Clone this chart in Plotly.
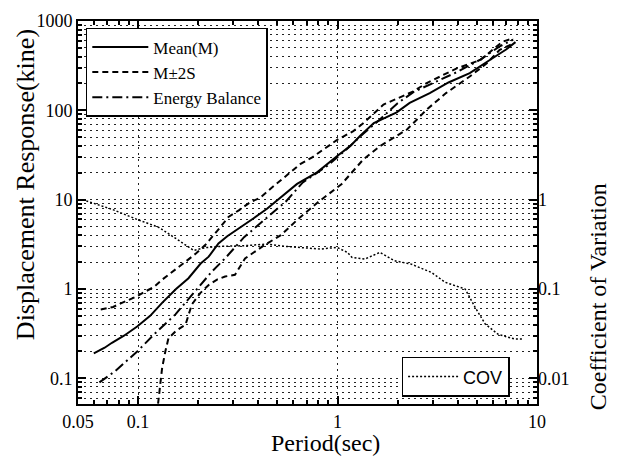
import math
import plotly.graph_objects as go

# Mean(M)
mean_T = [0.060, 0.068, 0.074, 0.085, 0.099, 0.115, 0.132, 0.155, 0.179, 0.206, 0.226, 0.253,
          0.28, 0.319, 0.38, 0.443, 0.52, 0.627, 0.79, 0.92, 1.0, 1.16, 1.3, 1.52, 1.75, 1.98,
          2.3, 2.9, 3.6, 4.6, 5.8, 7.0, 7.8]
mean_D = [0.19, 0.22, 0.25, 0.30, 0.38, 0.50, 0.70, 1.0, 1.32, 1.93, 2.3, 3.23,
          3.9, 4.8, 6.2, 7.9, 10.5, 15.0, 20.2, 27, 31, 40, 52, 72, 83, 95,
          121, 156, 205, 261, 366, 480, 580]

# M+2S
upper_T = [0.065, 0.075, 0.083, 0.099, 0.109, 0.12, 0.132, 0.15, 0.173, 0.195, 0.217, 0.25,
           0.284, 0.32, 0.366, 0.41, 0.46, 0.58, 0.65, 0.75, 0.85, 1.0, 1.2, 1.35, 1.7, 2.0,
           2.4, 2.8, 3.4, 3.96, 5.2, 6.7, 7.6]
upper_D = [0.59, 0.63, 0.70, 0.83, 0.94, 1.05, 1.27, 1.6, 2.02, 2.5, 3.1, 4.5,
           6.4, 7.6, 9.4, 10.5, 13.2, 20.2, 25, 30, 36.6, 47, 58.5, 72, 116, 135,
           163, 202, 250, 295, 366, 585, 640]

# M-2S
lower_T = [0.126, 0.129, 0.132, 0.137, 0.142, 0.155, 0.173, 0.186, 0.205, 0.226, 0.25, 0.273,
           0.306, 0.344, 0.43, 0.52, 0.636, 0.8, 1.05, 1.35, 1.64, 2.23, 2.8, 3.5, 4.6, 5.6,
           6.5, 7.6]
lower_D = [0.052, 0.08, 0.13, 0.2, 0.28, 0.34, 0.40, 0.67, 0.9, 1.11, 1.28, 1.38,
           1.44, 2.2, 3.1, 4.0, 6.1, 9.4, 15.0, 28.4, 40, 61, 102, 156, 239, 336,
           475, 560]

# Energy Balance
eb_T = [0.064, 0.077, 0.099, 0.122, 0.154, 0.186, 0.234, 0.273, 0.34, 0.45, 0.55, 0.67,
        0.89, 1.1, 1.35, 1.64, 2.0, 2.4, 3.0, 4.0, 5.2, 6.5, 7.6]
eb_D = [0.09, 0.121, 0.20, 0.32, 0.52, 0.86, 1.56, 2.2, 3.8, 6.5, 9.5, 15.6,
        24, 36, 55, 80, 120, 160, 200, 270, 370, 520, 620]

# COV (right axis)
cov_T = [0.055, 0.074, 0.099, 0.127, 0.16, 0.19, 0.217, 0.26, 0.339, 0.443, 0.55, 0.649,
         0.818, 0.995, 1.12, 1.18, 1.37, 1.63, 1.93, 2.34, 2.96, 3.46, 4.36, 4.9, 5.5,
         6.4, 7.7, 8.6]
cov_V = [0.97, 0.78, 0.60, 0.49, 0.35, 0.27, 0.29, 0.30, 0.305, 0.318, 0.30, 0.292,
         0.28, 0.292, 0.257, 0.226, 0.216, 0.257, 0.207, 0.19, 0.153, 0.119, 0.10, 0.062,
         0.0406, 0.031, 0.0276, 0.0276]

x_ticks = [0.05, 0.1, 1, 10]
x_ticktext = ['0.05', '0.1', '1', '10']
y_ticks = [0.1, 1, 10, 100, 1000]
y_ticktext = ['0.1', '1', '10', '100', '1000']
cov_ticks = [0.01, 0.1, 1]
cov_ticktext = ['0.01', '0.1', '1']

SERIF = 'Liberation Serif, Times New Roman, serif'
SANS = 'Liberation Sans, Arial, sans-serif'
GRID_DASH = '2px,4px'

x_minor = [m * 10 ** k for k in (-2, -1, 0) for m in range(2, 10) if 0.05 < m * 10 ** k < 10]
y_minor = [m * 10 ** k for k in (-2, -1, 0, 1, 2) for m in range(2, 10) if 0.0516 < m * 10 ** k < 1000]

fig = go.Figure()

fig.add_trace(go.Scatter(x=mean_T, y=mean_D, mode='lines', name='Mean(M)',
                         line=dict(color='black', width=2)))
fig.add_trace(go.Scatter(x=upper_T, y=upper_D, mode='lines', name='M\u00b12S',
                         line=dict(color='black', width=2, dash='6px,4px')))
fig.add_trace(go.Scatter(x=lower_T, y=lower_D, mode='lines', name='M-2S', showlegend=False,
                         line=dict(color='black', width=2, dash='6px,4px')))
fig.add_trace(go.Scatter(x=eb_T, y=eb_D, mode='lines', name='Energy Balance',
                         line=dict(color='black', width=2, dash='10px,4px,2px,4px')))
fig.add_trace(go.Scatter(x=cov_T, y=cov_V, mode='lines', name='COV', yaxis='y2', legend='legend2',
                         line=dict(color='black', width=1.5, dash='2px,2px')))

y_lo = math.log10(0.0516)

fig.update_layout(
    width=617, height=460,
    margin=dict(l=78, r=80, t=21, b=56),
    paper_bgcolor='white', plot_bgcolor='white',
    font=dict(family=SERIF, size=18, color='black'),
    xaxis=dict(
        type='log', range=[math.log10(0.05), 1],
        tickmode='array', tickvals=x_ticks, ticktext=x_ticktext,
        ticks='inside', ticklen=8, tickwidth=1.5, tickcolor='black',
        showline=True, linecolor='black', linewidth=2, mirror='ticks',
        showgrid=True, gridcolor='#222', gridwidth=1, griddash=GRID_DASH,
        tickfont=dict(family=SERIF, size=18),
        minor=dict(tickvals=x_minor, ticks='inside', ticklen=4, tickcolor='black', showgrid=False),
        zeroline=False,
    ),
    yaxis=dict(
        type='log', range=[y_lo, 3],
        tickmode='array', tickvals=y_ticks, ticktext=y_ticktext,
        ticks='inside', ticklen=8, tickwidth=1.5, tickcolor='black',
        showline=True, linecolor='black', linewidth=2, mirror='ticks',
        showgrid=True, gridcolor='#222', gridwidth=1, griddash=GRID_DASH,
        tickfont=dict(family=SERIF, size=18),
        minor=dict(tickvals=y_minor, ticks='inside', ticklen=4, tickcolor='black',
                   showgrid=True, gridcolor='#222', gridwidth=1, griddash=GRID_DASH),
        zeroline=False,
    ),
    yaxis2=dict(
        type='log', range=[y_lo - 1, 2], overlaying='y', side='right',
        tickmode='array', tickvals=cov_ticks, ticktext=cov_ticktext,
        ticks='', showgrid=False, showline=False, zeroline=False,
        tickfont=dict(family=SERIF, size=18),
    ),
    legend=dict(
        x=0.017, y=0.982, xanchor='left', yanchor='top',
        bgcolor='white', bordercolor='black', borderwidth=1.5,
        font=dict(family=SERIF, size=17), tracegroupgap=0, itemwidth=56,
    ),
    legend2=dict(
        x=0.705, y=0.123, xanchor='left', yanchor='top',
        bgcolor='white', bordercolor='black', borderwidth=1.5,
        font=dict(family=SANS, size=18), itemwidth=50,
    ),
    showlegend=True,
)

# axis titles
fig.add_annotation(text='Period(sec)', xref='paper', yref='paper', x=0.54, y=-0.102,
                   xanchor='center', yanchor='middle',
                   showarrow=False, font=dict(family=SERIF, size=24))
fig.add_annotation(text='Displacement Response(kine)', xref='paper', yref='paper',
                   x=-0.1155, y=0.574, xanchor='center', yanchor='middle',
                   textangle=-90, showarrow=False,
                   font=dict(family=SERIF, size=26))
fig.add_annotation(text='Coefficient of Variation', xref='paper', yref='paper',
                   x=1.133, y=0.279, xanchor='center', yanchor='middle',
                   textangle=-90, showarrow=False,
                   font=dict(family=SERIF, size=24))

# page body has a default 8px margin; drop it so the figure sits at the window origin
fig.write_html("out.html", config={'displayModeBar': False},
               post_script="document.body.style.margin='0';")
